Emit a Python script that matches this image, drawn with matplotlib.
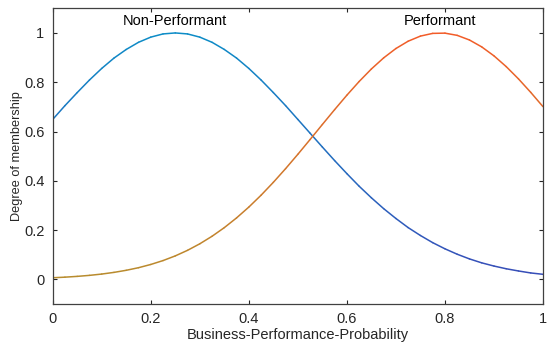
import numpy as np
import matplotlib
matplotlib.use("Agg")
import matplotlib.pyplot as plt
from matplotlib.collections import LineCollection
from matplotlib.colors import LinearSegmentedColormap

plt.rcParams['font.family'] = ['Liberation Sans', 'DejaVu Sans']

x_values = [0.0, 0.025, 0.05, 0.075, 0.1, 0.125, 0.15, 0.175, 0.2, 0.225, 0.25,
            0.275, 0.3, 0.325, 0.35, 0.375, 0.4, 0.425, 0.45, 0.475, 0.5,
            0.525, 0.55, 0.575, 0.6, 0.625, 0.65, 0.675, 0.7, 0.725, 0.75,
            0.775, 0.8, 0.825, 0.85, 0.875, 0.9, 0.925, 0.95, 0.975, 1.0]
non_performant = [0.649, 0.705, 0.758, 0.809, 0.856, 0.898, 0.933, 0.962, 0.983, 0.996, 1.000,
                  0.996, 0.983, 0.962, 0.933, 0.898, 0.856, 0.809, 0.758, 0.705, 0.649,
                  0.593, 0.537, 0.482, 0.429, 0.378, 0.331, 0.287, 0.247, 0.210, 0.178,
                  0.149, 0.124, 0.102, 0.083, 0.067, 0.054, 0.043, 0.034, 0.026, 0.0205]
performant = [0.0065, 0.0089, 0.0121, 0.0162, 0.0215, 0.0283, 0.0368, 0.0473, 0.0604, 0.0762, 0.0952,
              0.1178, 0.1443, 0.1749, 0.2099, 0.2494, 0.2933, 0.3415, 0.3937, 0.4493, 0.5075,
              0.5676, 0.6285, 0.6888, 0.7474, 0.8029, 0.8538, 0.8988, 0.9368, 0.9665, 0.9872,
              0.9982, 0.9992, 0.9902, 0.9714, 0.9434, 0.9070, 0.8633, 0.8135, 0.7588, 0.7008]
labels = ["Non-Performant", "Performant"]
label_x = [0.25, 0.79]
label_y = 1.05

fig = plt.figure(figsize=(5.5, 3.45), dpi=100)
ax = fig.add_axes([52.7/550, 1 - 304/345, (543 - 52.7)/550, (304 - 8.3)/345])

cmap_blue = LinearSegmentedColormap.from_list("b", [(0.22, 0.30, 0.72), (0.05, 0.55, 0.78)])
cmap_orng = LinearSegmentedColormap.from_list("o", [(0.72, 0.55, 0.18), (0.95, 0.36, 0.16)])

def add_curve(xs, ys, cmap):
    xs = np.asarray(xs); ys = np.asarray(ys)
    pts = np.column_stack([xs, ys]).reshape(-1, 1, 2)
    segs = np.concatenate([pts[:-1], pts[1:]], axis=1)
    mid = (ys[:-1] + ys[1:]) / 2
    lc = LineCollection(segs, colors=cmap(mid), linewidths=1.1, capstyle='round')
    ax.add_collection(lc)

add_curve(x_values, non_performant, cmap_blue)
add_curve(x_values, performant, cmap_orng)

for lx, lab in zip(label_x, labels):
    ax.text(lx, label_y, lab, ha='center', va='center', fontsize=10.5, color='black')

ax.set_xlim(0, 1)
ax.set_ylim(-0.1, 1.1)
ax.set_xticks([0, 0.2, 0.4, 0.6, 0.8, 1])
ax.set_xticklabels(["0", "0.2", "0.4", "0.6", "0.8", "1"])
ax.set_yticks([0, 0.2, 0.4, 0.6, 0.8, 1])
ax.set_yticklabels(["0", "0.2", "0.4", "0.6", "0.8", "1"])
ax.tick_params(direction='in', top=True, right=True, length=3, width=0.8,
               labelsize=10.5, colors='#262626', pad=6)
for sp in ax.spines.values():
    sp.set_color('#404040')
    sp.set_linewidth(0.9)
ax.set_xlabel("Business-Performance-Probability", fontsize=10.5, color='#262626', labelpad=1)
ax.set_ylabel("Degree of membership", fontsize=9.2, color='#262626', labelpad=0.5)

fig.savefig("out.png", dpi=100)
